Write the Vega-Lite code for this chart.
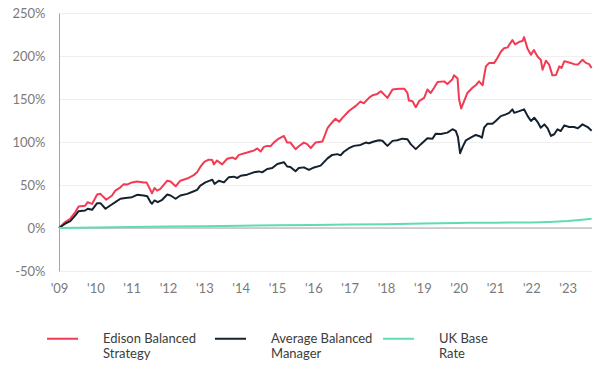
{
  "$schema": "https://vega.github.io/schema/vega-lite/v6.json",
  "width": 533,
  "height": 258,
  "autosize": {"type": "none"},
  "padding": {"left": 59, "top": 13, "right": 8, "bottom": 114},
  "background": "white",
  "config": {"view": {"stroke": null}, "font": "Lato"},
  "datasets": {
    "perf": [
      {"series": "Edison Balanced Strategy", "year": 2009.00, "value": 0},
      {"series": "Edison Balanced Strategy", "year": 2009.17, "value": 6.9},
      {"series": "Edison Balanced Strategy", "year": 2009.31, "value": 10.8},
      {"series": "Edison Balanced Strategy", "year": 2009.45, "value": 18.5},
      {"series": "Edison Balanced Strategy", "year": 2009.54, "value": 25},
      {"series": "Edison Balanced Strategy", "year": 2009.72, "value": 26},
      {"series": "Edison Balanced Strategy", "year": 2009.79, "value": 30},
      {"series": "Edison Balanced Strategy", "year": 2009.91, "value": 28},
      {"series": "Edison Balanced Strategy", "year": 2010.05, "value": 39},
      {"series": "Edison Balanced Strategy", "year": 2010.14, "value": 39.7},
      {"series": "Edison Balanced Strategy", "year": 2010.30, "value": 32.8},
      {"series": "Edison Balanced Strategy", "year": 2010.46, "value": 37.8},
      {"series": "Edison Balanced Strategy", "year": 2010.55, "value": 43.5},
      {"series": "Edison Balanced Strategy", "year": 2010.67, "value": 46.6},
      {"series": "Edison Balanced Strategy", "year": 2010.78, "value": 51},
      {"series": "Edison Balanced Strategy", "year": 2010.87, "value": 50.5},
      {"series": "Edison Balanced Strategy", "year": 2011.01, "value": 53},
      {"series": "Edison Balanced Strategy", "year": 2011.15, "value": 54},
      {"series": "Edison Balanced Strategy", "year": 2011.33, "value": 53},
      {"series": "Edison Balanced Strategy", "year": 2011.41, "value": 53},
      {"series": "Edison Balanced Strategy", "year": 2011.50, "value": 45.5},
      {"series": "Edison Balanced Strategy", "year": 2011.56, "value": 40.4},
      {"series": "Edison Balanced Strategy", "year": 2011.63, "value": 46.6},
      {"series": "Edison Balanced Strategy", "year": 2011.70, "value": 43.5},
      {"series": "Edison Balanced Strategy", "year": 2011.79, "value": 45.5},
      {"series": "Edison Balanced Strategy", "year": 2011.98, "value": 55},
      {"series": "Edison Balanced Strategy", "year": 2012.07, "value": 54},
      {"series": "Edison Balanced Strategy", "year": 2012.21, "value": 48.5},
      {"series": "Edison Balanced Strategy", "year": 2012.34, "value": 55},
      {"series": "Edison Balanced Strategy", "year": 2012.53, "value": 57.5},
      {"series": "Edison Balanced Strategy", "year": 2012.71, "value": 61.5},
      {"series": "Edison Balanced Strategy", "year": 2012.80, "value": 64.7},
      {"series": "Edison Balanced Strategy", "year": 2012.89, "value": 71},
      {"series": "Edison Balanced Strategy", "year": 2013.00, "value": 77},
      {"series": "Edison Balanced Strategy", "year": 2013.12, "value": 79.5},
      {"series": "Edison Balanced Strategy", "year": 2013.22, "value": 79},
      {"series": "Edison Balanced Strategy", "year": 2013.26, "value": 74},
      {"series": "Edison Balanced Strategy", "year": 2013.35, "value": 78.5},
      {"series": "Edison Balanced Strategy", "year": 2013.49, "value": 74},
      {"series": "Edison Balanced Strategy", "year": 2013.63, "value": 80.5},
      {"series": "Edison Balanced Strategy", "year": 2013.77, "value": 82},
      {"series": "Edison Balanced Strategy", "year": 2013.86, "value": 80},
      {"series": "Edison Balanced Strategy", "year": 2013.95, "value": 85},
      {"series": "Edison Balanced Strategy", "year": 2014.18, "value": 87.8},
      {"series": "Edison Balanced Strategy", "year": 2014.27, "value": 89},
      {"series": "Edison Balanced Strategy", "year": 2014.36, "value": 90},
      {"series": "Edison Balanced Strategy", "year": 2014.46, "value": 92.5},
      {"series": "Edison Balanced Strategy", "year": 2014.55, "value": 89},
      {"series": "Edison Balanced Strategy", "year": 2014.64, "value": 94.3},
      {"series": "Edison Balanced Strategy", "year": 2014.73, "value": 95.5},
      {"series": "Edison Balanced Strategy", "year": 2014.82, "value": 95},
      {"series": "Edison Balanced Strategy", "year": 2014.91, "value": 99.3},
      {"series": "Edison Balanced Strategy", "year": 2015.05, "value": 104},
      {"series": "Edison Balanced Strategy", "year": 2015.19, "value": 107},
      {"series": "Edison Balanced Strategy", "year": 2015.28, "value": 99.3},
      {"series": "Edison Balanced Strategy", "year": 2015.37, "value": 99.3},
      {"series": "Edison Balanced Strategy", "year": 2015.51, "value": 91.7},
      {"series": "Edison Balanced Strategy", "year": 2015.60, "value": 95},
      {"series": "Edison Balanced Strategy", "year": 2015.74, "value": 99.3},
      {"series": "Edison Balanced Strategy", "year": 2015.83, "value": 97.5},
      {"series": "Edison Balanced Strategy", "year": 2015.93, "value": 93},
      {"series": "Edison Balanced Strategy", "year": 2016.06, "value": 99.3},
      {"series": "Edison Balanced Strategy", "year": 2016.25, "value": 100.5},
      {"series": "Edison Balanced Strategy", "year": 2016.39, "value": 116},
      {"series": "Edison Balanced Strategy", "year": 2016.52, "value": 123},
      {"series": "Edison Balanced Strategy", "year": 2016.61, "value": 127},
      {"series": "Edison Balanced Strategy", "year": 2016.71, "value": 123.5},
      {"series": "Edison Balanced Strategy", "year": 2016.80, "value": 128},
      {"series": "Edison Balanced Strategy", "year": 2016.98, "value": 136},
      {"series": "Edison Balanced Strategy", "year": 2017.17, "value": 142},
      {"series": "Edison Balanced Strategy", "year": 2017.30, "value": 147},
      {"series": "Edison Balanced Strategy", "year": 2017.39, "value": 145},
      {"series": "Edison Balanced Strategy", "year": 2017.53, "value": 151.3},
      {"series": "Edison Balanced Strategy", "year": 2017.63, "value": 154.4},
      {"series": "Edison Balanced Strategy", "year": 2017.76, "value": 155.9},
      {"series": "Edison Balanced Strategy", "year": 2017.86, "value": 159},
      {"series": "Edison Balanced Strategy", "year": 2018.04, "value": 151.3},
      {"series": "Edison Balanced Strategy", "year": 2018.18, "value": 161},
      {"series": "Edison Balanced Strategy", "year": 2018.36, "value": 162},
      {"series": "Edison Balanced Strategy", "year": 2018.50, "value": 162},
      {"series": "Edison Balanced Strategy", "year": 2018.59, "value": 157},
      {"series": "Edison Balanced Strategy", "year": 2018.63, "value": 148.3},
      {"series": "Edison Balanced Strategy", "year": 2018.73, "value": 147.5},
      {"series": "Edison Balanced Strategy", "year": 2018.82, "value": 140.5},
      {"series": "Edison Balanced Strategy", "year": 2018.91, "value": 147.5},
      {"series": "Edison Balanced Strategy", "year": 2019.05, "value": 151.3},
      {"series": "Edison Balanced Strategy", "year": 2019.14, "value": 161},
      {"series": "Edison Balanced Strategy", "year": 2019.23, "value": 157},
      {"series": "Edison Balanced Strategy", "year": 2019.32, "value": 162.8},
      {"series": "Edison Balanced Strategy", "year": 2019.42, "value": 169.7},
      {"series": "Edison Balanced Strategy", "year": 2019.60, "value": 170.5},
      {"series": "Edison Balanced Strategy", "year": 2019.69, "value": 167.4},
      {"series": "Edison Balanced Strategy", "year": 2019.83, "value": 173},
      {"series": "Edison Balanced Strategy", "year": 2019.87, "value": 177.5},
      {"series": "Edison Balanced Strategy", "year": 2019.97, "value": 174},
      {"series": "Edison Balanced Strategy", "year": 2020.01, "value": 150},
      {"series": "Edison Balanced Strategy", "year": 2020.07, "value": 139},
      {"series": "Edison Balanced Strategy", "year": 2020.15, "value": 147.5},
      {"series": "Edison Balanced Strategy", "year": 2020.24, "value": 157},
      {"series": "Edison Balanced Strategy", "year": 2020.38, "value": 163},
      {"series": "Edison Balanced Strategy", "year": 2020.47, "value": 166},
      {"series": "Edison Balanced Strategy", "year": 2020.56, "value": 170.5},
      {"series": "Edison Balanced Strategy", "year": 2020.66, "value": 166},
      {"series": "Edison Balanced Strategy", "year": 2020.69, "value": 174},
      {"series": "Edison Balanced Strategy", "year": 2020.75, "value": 188},
      {"series": "Edison Balanced Strategy", "year": 2020.84, "value": 192},
      {"series": "Edison Balanced Strategy", "year": 2020.98, "value": 192},
      {"series": "Edison Balanced Strategy", "year": 2021.07, "value": 198},
      {"series": "Edison Balanced Strategy", "year": 2021.16, "value": 205},
      {"series": "Edison Balanced Strategy", "year": 2021.25, "value": 209},
      {"series": "Edison Balanced Strategy", "year": 2021.35, "value": 210},
      {"series": "Edison Balanced Strategy", "year": 2021.39, "value": 213},
      {"series": "Edison Balanced Strategy", "year": 2021.48, "value": 218.5},
      {"series": "Edison Balanced Strategy", "year": 2021.55, "value": 213.6},
      {"series": "Edison Balanced Strategy", "year": 2021.67, "value": 216.5},
      {"series": "Edison Balanced Strategy", "year": 2021.76, "value": 217.5},
      {"series": "Edison Balanced Strategy", "year": 2021.80, "value": 222},
      {"series": "Edison Balanced Strategy", "year": 2021.90, "value": 208},
      {"series": "Edison Balanced Strategy", "year": 2021.99, "value": 201.4},
      {"series": "Edison Balanced Strategy", "year": 2022.07, "value": 207},
      {"series": "Edison Balanced Strategy", "year": 2022.17, "value": 199.4},
      {"series": "Edison Balanced Strategy", "year": 2022.26, "value": 195.6},
      {"series": "Edison Balanced Strategy", "year": 2022.31, "value": 184},
      {"series": "Edison Balanced Strategy", "year": 2022.40, "value": 194.5},
      {"series": "Edison Balanced Strategy", "year": 2022.49, "value": 190},
      {"series": "Edison Balanced Strategy", "year": 2022.58, "value": 177.5},
      {"series": "Edison Balanced Strategy", "year": 2022.68, "value": 178},
      {"series": "Edison Balanced Strategy", "year": 2022.77, "value": 188},
      {"series": "Edison Balanced Strategy", "year": 2022.83, "value": 186},
      {"series": "Edison Balanced Strategy", "year": 2022.91, "value": 194},
      {"series": "Edison Balanced Strategy", "year": 2023.04, "value": 192.5},
      {"series": "Edison Balanced Strategy", "year": 2023.18, "value": 190.5},
      {"series": "Edison Balanced Strategy", "year": 2023.28, "value": 190},
      {"series": "Edison Balanced Strategy", "year": 2023.41, "value": 195.6},
      {"series": "Edison Balanced Strategy", "year": 2023.50, "value": 192},
      {"series": "Edison Balanced Strategy", "year": 2023.59, "value": 190.5},
      {"series": "Edison Balanced Strategy", "year": 2023.66, "value": 186},

      {"series": "Average Balanced Manager", "year": 2009.00, "value": 0},
      {"series": "Average Balanced Manager", "year": 2009.17, "value": 5},
      {"series": "Average Balanced Manager", "year": 2009.31, "value": 8},
      {"series": "Average Balanced Manager", "year": 2009.45, "value": 14.7},
      {"series": "Average Balanced Manager", "year": 2009.54, "value": 19.6},
      {"series": "Average Balanced Manager", "year": 2009.72, "value": 20.4},
      {"series": "Average Balanced Manager", "year": 2009.79, "value": 22.4},
      {"series": "Average Balanced Manager", "year": 2009.91, "value": 21.2},
      {"series": "Average Balanced Manager", "year": 2010.05, "value": 28.9},
      {"series": "Average Balanced Manager", "year": 2010.14, "value": 28.9},
      {"series": "Average Balanced Manager", "year": 2010.28, "value": 22.4},
      {"series": "Average Balanced Manager", "year": 2010.41, "value": 26.2},
      {"series": "Average Balanced Manager", "year": 2010.55, "value": 30},
      {"series": "Average Balanced Manager", "year": 2010.69, "value": 34},
      {"series": "Average Balanced Manager", "year": 2010.83, "value": 35},
      {"series": "Average Balanced Manager", "year": 2011.01, "value": 35.8},
      {"series": "Average Balanced Manager", "year": 2011.15, "value": 38.6},
      {"series": "Average Balanced Manager", "year": 2011.33, "value": 37.8},
      {"series": "Average Balanced Manager", "year": 2011.43, "value": 37},
      {"series": "Average Balanced Manager", "year": 2011.52, "value": 30},
      {"series": "Average Balanced Manager", "year": 2011.56, "value": 28.2},
      {"series": "Average Balanced Manager", "year": 2011.63, "value": 32},
      {"series": "Average Balanced Manager", "year": 2011.72, "value": 30},
      {"series": "Average Balanced Manager", "year": 2011.84, "value": 32.8},
      {"series": "Average Balanced Manager", "year": 2011.98, "value": 38.9},
      {"series": "Average Balanced Manager", "year": 2012.07, "value": 37.8},
      {"series": "Average Balanced Manager", "year": 2012.21, "value": 34},
      {"series": "Average Balanced Manager", "year": 2012.34, "value": 37.8},
      {"series": "Average Balanced Manager", "year": 2012.53, "value": 39.7},
      {"series": "Average Balanced Manager", "year": 2012.71, "value": 42.7},
      {"series": "Average Balanced Manager", "year": 2012.80, "value": 44.3},
      {"series": "Average Balanced Manager", "year": 2012.89, "value": 49.3},
      {"series": "Average Balanced Manager", "year": 2013.03, "value": 53},
      {"series": "Average Balanced Manager", "year": 2013.22, "value": 56.2},
      {"series": "Average Balanced Manager", "year": 2013.28, "value": 51.3},
      {"series": "Average Balanced Manager", "year": 2013.40, "value": 55},
      {"series": "Average Balanced Manager", "year": 2013.54, "value": 53},
      {"series": "Average Balanced Manager", "year": 2013.67, "value": 58.9},
      {"series": "Average Balanced Manager", "year": 2013.81, "value": 59.7},
      {"series": "Average Balanced Manager", "year": 2013.91, "value": 58.2},
      {"series": "Average Balanced Manager", "year": 2014.00, "value": 60.8},
      {"series": "Average Balanced Manager", "year": 2014.18, "value": 62},
      {"series": "Average Balanced Manager", "year": 2014.36, "value": 64.7},
      {"series": "Average Balanced Manager", "year": 2014.50, "value": 65.8},
      {"series": "Average Balanced Manager", "year": 2014.59, "value": 64.7},
      {"series": "Average Balanced Manager", "year": 2014.73, "value": 68.6},
      {"series": "Average Balanced Manager", "year": 2014.87, "value": 69.7},
      {"series": "Average Balanced Manager", "year": 2015.01, "value": 74.4},
      {"series": "Average Balanced Manager", "year": 2015.19, "value": 76.5},
      {"series": "Average Balanced Manager", "year": 2015.28, "value": 71.5},
      {"series": "Average Balanced Manager", "year": 2015.37, "value": 71},
      {"series": "Average Balanced Manager", "year": 2015.51, "value": 66},
      {"series": "Average Balanced Manager", "year": 2015.60, "value": 69.7},
      {"series": "Average Balanced Manager", "year": 2015.74, "value": 70.5},
      {"series": "Average Balanced Manager", "year": 2015.88, "value": 67.5},
      {"series": "Average Balanced Manager", "year": 2016.02, "value": 70.4},
      {"series": "Average Balanced Manager", "year": 2016.20, "value": 72.5},
      {"series": "Average Balanced Manager", "year": 2016.39, "value": 81},
      {"series": "Average Balanced Manager", "year": 2016.52, "value": 85},
      {"series": "Average Balanced Manager", "year": 2016.66, "value": 85.9},
      {"series": "Average Balanced Manager", "year": 2016.75, "value": 84.5},
      {"series": "Average Balanced Manager", "year": 2016.84, "value": 88.6},
      {"series": "Average Balanced Manager", "year": 2016.98, "value": 92.8},
      {"series": "Average Balanced Manager", "year": 2017.12, "value": 95.5},
      {"series": "Average Balanced Manager", "year": 2017.30, "value": 96.6},
      {"series": "Average Balanced Manager", "year": 2017.44, "value": 99.3},
      {"series": "Average Balanced Manager", "year": 2017.53, "value": 98.5},
      {"series": "Average Balanced Manager", "year": 2017.67, "value": 100.5},
      {"series": "Average Balanced Manager", "year": 2017.81, "value": 102},
      {"series": "Average Balanced Manager", "year": 2017.90, "value": 101.5},
      {"series": "Average Balanced Manager", "year": 2018.04, "value": 95.5},
      {"series": "Average Balanced Manager", "year": 2018.18, "value": 101.3},
      {"series": "Average Balanced Manager", "year": 2018.31, "value": 102},
      {"series": "Average Balanced Manager", "year": 2018.45, "value": 103.9},
      {"series": "Average Balanced Manager", "year": 2018.59, "value": 103.2},
      {"series": "Average Balanced Manager", "year": 2018.68, "value": 97.5},
      {"series": "Average Balanced Manager", "year": 2018.82, "value": 91.7},
      {"series": "Average Balanced Manager", "year": 2018.96, "value": 97.5},
      {"series": "Average Balanced Manager", "year": 2019.14, "value": 104.4},
      {"series": "Average Balanced Manager", "year": 2019.28, "value": 103.8},
      {"series": "Average Balanced Manager", "year": 2019.37, "value": 109.7},
      {"series": "Average Balanced Manager", "year": 2019.51, "value": 109.2},
      {"series": "Average Balanced Manager", "year": 2019.69, "value": 110.9},
      {"series": "Average Balanced Manager", "year": 2019.83, "value": 114.8},
      {"series": "Average Balanced Manager", "year": 2019.92, "value": 113},
      {"series": "Average Balanced Manager", "year": 2019.98, "value": 106},
      {"series": "Average Balanced Manager", "year": 2020.04, "value": 87},
      {"series": "Average Balanced Manager", "year": 2020.11, "value": 94.3},
      {"series": "Average Balanced Manager", "year": 2020.20, "value": 102},
      {"series": "Average Balanced Manager", "year": 2020.33, "value": 105},
      {"series": "Average Balanced Manager", "year": 2020.47, "value": 108.2},
      {"series": "Average Balanced Manager", "year": 2020.56, "value": 107},
      {"series": "Average Balanced Manager", "year": 2020.64, "value": 105},
      {"series": "Average Balanced Manager", "year": 2020.70, "value": 116.6},
      {"series": "Average Balanced Manager", "year": 2020.79, "value": 121.2},
      {"series": "Average Balanced Manager", "year": 2020.93, "value": 121.2},
      {"series": "Average Balanced Manager", "year": 2021.02, "value": 124.4},
      {"series": "Average Balanced Manager", "year": 2021.16, "value": 130.1},
      {"series": "Average Balanced Manager", "year": 2021.30, "value": 132.1},
      {"series": "Average Balanced Manager", "year": 2021.39, "value": 133.9},
      {"series": "Average Balanced Manager", "year": 2021.48, "value": 137.9},
      {"series": "Average Balanced Manager", "year": 2021.53, "value": 133.9},
      {"series": "Average Balanced Manager", "year": 2021.67, "value": 135.9},
      {"series": "Average Balanced Manager", "year": 2021.80, "value": 138},
      {"series": "Average Balanced Manager", "year": 2021.90, "value": 130.1},
      {"series": "Average Balanced Manager", "year": 2021.99, "value": 124.4},
      {"series": "Average Balanced Manager", "year": 2022.08, "value": 128.2},
      {"series": "Average Balanced Manager", "year": 2022.17, "value": 123.5},
      {"series": "Average Balanced Manager", "year": 2022.26, "value": 116.6},
      {"series": "Average Balanced Manager", "year": 2022.36, "value": 120.5},
      {"series": "Average Balanced Manager", "year": 2022.45, "value": 115.9},
      {"series": "Average Balanced Manager", "year": 2022.54, "value": 107},
      {"series": "Average Balanced Manager", "year": 2022.63, "value": 109},
      {"series": "Average Balanced Manager", "year": 2022.72, "value": 114.8},
      {"series": "Average Balanced Manager", "year": 2022.81, "value": 112.8},
      {"series": "Average Balanced Manager", "year": 2022.91, "value": 119.4},
      {"series": "Average Balanced Manager", "year": 2023.04, "value": 117.4},
      {"series": "Average Balanced Manager", "year": 2023.18, "value": 117.4},
      {"series": "Average Balanced Manager", "year": 2023.28, "value": 115.9},
      {"series": "Average Balanced Manager", "year": 2023.41, "value": 120.5},
      {"series": "Average Balanced Manager", "year": 2023.55, "value": 117.4},
      {"series": "Average Balanced Manager", "year": 2023.66, "value": 113},

      {"series": "UK Base Rate", "year": 2009.00, "value": 0},
      {"series": "UK Base Rate", "year": 2010.00, "value": 0.6},
      {"series": "UK Base Rate", "year": 2011.00, "value": 1.1},
      {"series": "UK Base Rate", "year": 2012.00, "value": 1.6},
      {"series": "UK Base Rate", "year": 2013.00, "value": 2.1},
      {"series": "UK Base Rate", "year": 2014.00, "value": 2.6},
      {"series": "UK Base Rate", "year": 2015.00, "value": 3.1},
      {"series": "UK Base Rate", "year": 2016.00, "value": 3.6},
      {"series": "UK Base Rate", "year": 2017.00, "value": 4.0},
      {"series": "UK Base Rate", "year": 2018.00, "value": 4.5},
      {"series": "UK Base Rate", "year": 2019.00, "value": 5.2},
      {"series": "UK Base Rate", "year": 2020.00, "value": 5.9},
      {"series": "UK Base Rate", "year": 2020.25, "value": 6.1},
      {"series": "UK Base Rate", "year": 2021.00, "value": 6.2},
      {"series": "UK Base Rate", "year": 2022.00, "value": 6.5},
      {"series": "UK Base Rate", "year": 2022.50, "value": 7.1},
      {"series": "UK Base Rate", "year": 2023.00, "value": 8.1},
      {"series": "UK Base Rate", "year": 2023.33, "value": 9.4},
      {"series": "UK Base Rate", "year": 2023.66, "value": 10.8}
    ]
  },
  "layer": [
    {
      "data": {"values": [{}]},
      "mark": {"type": "rule", "color": "#a9a59d", "strokeWidth": 1},
      "encoding": {"y": {"datum": 0, "type": "quantitative"}}
    },
    {
      "data": {"name": "perf"},
      "mark": {"type": "line", "strokeWidth": 2, "strokeJoin": "round"},
      "encoding": {
        "x": {
          "field": "year",
          "type": "quantitative",
          "scale": {"domain": [2009, 2023.67], "nice": false, "zero": false},
          "axis": {
            "title": null,
            "values": [2009, 2010, 2011, 2012, 2013, 2014, 2015, 2016, 2017, 2018, 2019, 2020, 2021, 2022, 2023],
            "labelExpr": "\"'\" + substring(toString(datum.value), 2, 4)",
            "grid": false,
            "ticks": false,
            "domain": false,
            "labelFlush": false,
            "labelOverlap": false,
            "labelPadding": 11,
            "labelFontSize": 13,
            "labelColor": "#7a7a7a"
          }
        },
        "y": {
          "field": "value",
          "type": "quantitative",
          "scale": {"domain": [-50, 250], "nice": false},
          "axis": {
            "title": null,
            "values": [-50, 0, 50, 100, 150, 200, 250],
            "labelExpr": "datum.value + '%'",
            "grid": true,
            "gridColor": "#efefef",
            "ticks": false,
            "domain": true,
            "domainColor": "#a9a59d",
            "labelPadding": 14,
            "labelFontSize": 13,
            "labelColor": "#7a7a7a"
          }
        },
        "color": {
          "field": "series",
          "type": "nominal",
          "scale": {
            "domain": ["Edison Balanced Strategy", "Average Balanced Manager", "UK Base Rate"],
            "range": ["#f23b52", "#14222f", "#5fdcb1"]
          },
          "legend": {
            "title": null,
            "orient": "none",
            "legendX": -13,
            "legendY": 309,
            "direction": "horizontal",
            "columns": 3,
            "gridAlign": "all",
            "columnPadding": 6,
            "symbolType": "stroke",
            "symbolSize": 961,
            "symbolStrokeWidth": 2,
            "labelOffset": 24,
            "labelFontSize": 13,
            "labelColor": "#3c3c3c",
            "labelExpr": "[slice(datum.label, 0, lastindexof(datum.label, ' ')), slice(datum.label, lastindexof(datum.label, ' ') + 1)]"
          }
        }
      }
    }
  ]
}
